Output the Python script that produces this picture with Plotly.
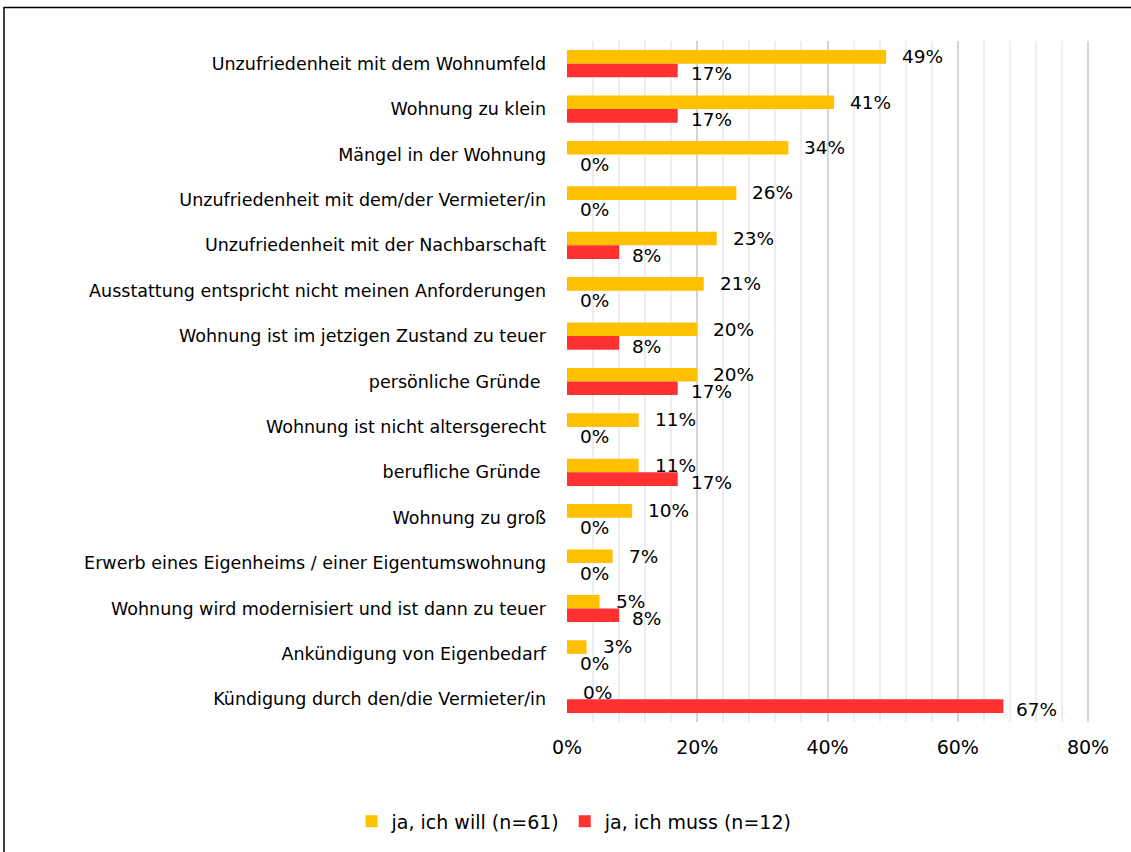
import plotly.graph_objects as go

categories = [
    "Unzufriedenheit mit dem Wohnumfeld",
    "Wohnung zu klein",
    "Mängel in der Wohnung",
    "Unzufriedenheit mit dem/der Vermieter/in",
    "Unzufriedenheit mit der Nachbarschaft",
    "Ausstattung entspricht nicht meinen Anforderungen",
    "Wohnung ist im jetzigen Zustand zu teuer",
    "persönliche Gründe ",
    "Wohnung ist nicht altersgerecht",
    "berufliche Gründe ",
    "Wohnung zu groß",
    "Erwerb eines Eigenheims / einer Eigentumswohnung",
    "Wohnung wird modernisiert und ist dann zu teuer",
    "Ankündigung von Eigenbedarf",
    "Kündigung durch den/die Vermieter/in",
]
will_values = [49, 41, 34, 26, 23, 21, 20, 20, 11, 11, 10, 7, 5, 3, 0]
muss_values = [17, 17, 0, 0, 8, 0, 8, 17, 0, 17, 0, 0, 8, 0, 67]
series_names = ["ja, ich will (n=61)", "ja, ich muss (n=12)"]
x_ticks = [0, 20, 40, 60, 80]

YELLOW = "#FFC000"
RED = "#FF3131"
FONT = "DejaVu Sans"
LABEL_SIZE = 18.5

fig = go.Figure()
fig.add_trace(go.Bar(y=categories, x=will_values, orientation="h",
                     name=series_names[0], marker=dict(color=YELLOW, line=dict(width=0))))
fig.add_trace(go.Bar(y=categories, x=muss_values, orientation="h",
                     name=series_names[1], marker=dict(color=RED, line=dict(width=0))))

# value labels placed just beyond each bar end
annotations = []
for cat, v in zip(categories, will_values):
    annotations.append(dict(x=v, y=cat, xref="x", yref="y", text=f"{v}%",
                            showarrow=False, xanchor="left", xshift=14, yshift=7,
                            font=dict(family=FONT, size=LABEL_SIZE, color="#000")))
for cat, v in zip(categories, muss_values):
    annotations.append(dict(x=v, y=cat, xref="x", yref="y", text=f"{v}%",
                            showarrow=False, xanchor="left", xshift=11, yshift=-10,
                            font=dict(family=FONT, size=LABEL_SIZE, color="#000")))

fig.update_layout(
    width=1131, height=852,
    margin=dict(l=567, r=41, t=41, b=130),
    paper_bgcolor="white", plot_bgcolor="white",
    barmode="group", bargap=0.4, bargroupgap=0.0,
    font=dict(family=FONT, size=17, color="#000"),
    showlegend=True,
    legend=dict(orientation="h", xref="container", x=0.508, xanchor="center",
                yref="container", y=0.036, yanchor="middle",
                font=dict(family=FONT, size=19, color="#000"),
                itemwidth=30, traceorder="normal"),
    annotations=annotations,
    shapes=[dict(type="rect", xref="paper", yref="paper",
                 x0=(4 - 567) / 523, x1=(1140 - 567) / 523,
                 y0=(722 - 860) / 681, y1=(722 - 7.5) / 681,
                 line=dict(color="#000", width=1.5), fillcolor="rgba(0,0,0,0)",
                 layer="below")],
)
fig.update_xaxes(range=[0, 80.3], tickvals=x_ticks, ticktext=[f"{t}%" for t in x_ticks],
                 showgrid=True, gridcolor="#d4d4d4", gridwidth=1.5,
                 minor=dict(dtick=4, showgrid=True, gridcolor="#eeeeee", gridwidth=1.5),
                 zeroline=False, showline=False, ticks="", ticklabelstandoff=12,
                 tickfont=dict(family=FONT, size=19))
fig.update_yaxes(autorange="reversed", showgrid=False, zeroline=False, showline=False,
                 ticks="", ticklabelstandoff=20, tickfont=dict(family=FONT, size=17.5))

fig.write_html("out.html")
